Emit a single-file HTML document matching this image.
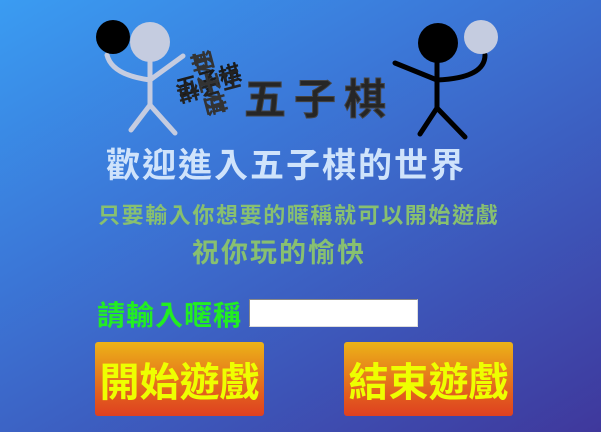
<!DOCTYPE html>
<html><head><meta charset="utf-8"><style>
html,body{margin:0;padding:0}
body{width:601px;height:432px;overflow:hidden;position:relative;
background:linear-gradient(150deg,#3a9cf2 0%,#3b78d8 35%,#3d55b8 70%,#3f389c 100%);
font-family:"Liberation Sans","Noto Sans CJK TC","WenQuanYi Zen Hei",sans-serif;font-weight:bold}
.t{position:absolute;white-space:nowrap;line-height:1}
.btn{position:absolute;width:169px;height:74px;border-radius:3px;
background:linear-gradient(#ecb318,#e25e1e 70%,#df4020);color:#eeff00;font-size:40px;
display:flex;align-items:center;justify-content:center;letter-spacing:0px}
</style></head><body>
<svg width="601" height="432" style="position:absolute;left:0;top:0">
 <g stroke="#c5cce0" stroke-width="5" fill="none" stroke-linecap="round">
  <path d="M150 62 L150 105 M150 105 L131 130 M150 105 L175 133 M150 80 Q112 75 107 55 M150 80 L183 56"/>
 </g>
 <circle cx="113" cy="37" r="17" fill="#000"/>
 <circle cx="150" cy="42" r="20" fill="#c5cce0"/>
 <g stroke="#000" stroke-width="5" fill="none" stroke-linecap="round">
  <path d="M437 62 L437 108 M437 108 L420 134 M437 108 L465 137 M437 80 L395 63 M437 80 Q485 78 485 55"/>
 </g>
 <circle cx="438" cy="43" r="20" fill="#000"/>
 <circle cx="481" cy="37" r="17" fill="#c5cce0"/>
</svg>
<div class="t" style="left:176px;top:52px;width:64px;height:64px;">
 <div class="t" style="left:0px;top:18px;font-size:22px;color:#1a1a1a;transform:rotate(-15deg)">五子棋</div>
 <div class="t" style="left:0px;top:20px;font-size:22px;color:#333;transform:rotate(75deg)">五子棋</div>
 <div class="t" style="left:0px;top:22px;font-size:22px;color:#222;transform:rotate(165deg)">五子棋</div>
 <div class="t" style="left:0px;top:20px;font-size:22px;color:#333;transform:rotate(255deg)">五子棋</div>
</div>
<div class="t" style="left:244px;top:79px;font-size:42px;color:#262626;letter-spacing:8px;font-weight:bold;-webkit-text-stroke:1px #444">五子棋</div>
<div class="t" style="left:106px;top:149px;font-size:34px;color:#cfe3fb;letter-spacing:2px">歡迎進入五子棋的世界</div>
<div class="t" style="left:98px;top:205px;font-size:22px;color:#88c070;letter-spacing:1.6px">只要輸入你想要的暱稱就可以開始遊戲</div>
<div class="t" style="left:192px;top:240px;font-size:27px;color:#88c070;letter-spacing:2px">祝你玩的愉快</div>
<div class="t" style="left:97px;top:302px;font-size:28px;color:#22ee22;letter-spacing:1px">請輸入暱稱</div>
<input type="text" style="position:absolute;left:249px;top:299px;width:163px;height:26px;box-sizing:content-box;padding:0 2px;border:1px solid #888;border-right-color:#ddd;border-bottom-color:#ddd;background:#fff;margin:0">
<div class="btn" style="left:95px;top:342px">開始遊戲</div>
<div class="btn" style="left:344px;top:342px">結束遊戲</div>
</body></html>
